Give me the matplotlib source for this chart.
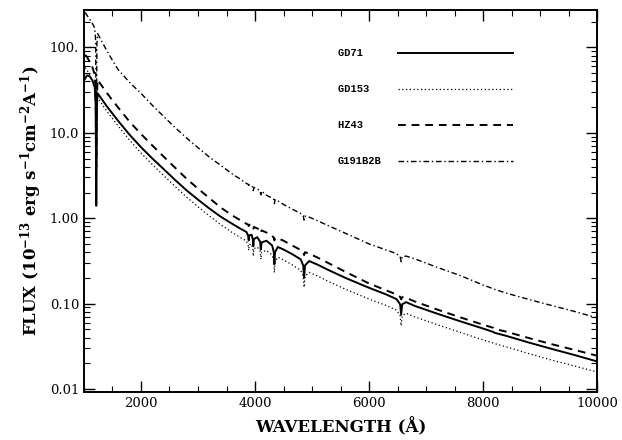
import numpy as np
import matplotlib
matplotlib.use('Agg')
import matplotlib.pyplot as plt
from matplotlib.ticker import FixedLocator, FixedFormatter, MultipleLocator, NullFormatter

# wavelength grid (Angstrom), shared by all four stars
wave = [1020, 1050, 1100, 1150, 1190, 1205, 1216, 1227, 1240, 1300, 1400, 1500, 1600,
        1800, 2000, 2200, 2400, 2600, 2800, 3000, 3200, 3400, 3600, 3750, 3850,
        3880, 3889, 3900, 3940, 3962, 3970, 3980, 4040, 4090, 4102, 4115, 4200,
        4300, 4330, 4340, 4350, 4400, 4500, 4650, 4800, 4845, 4861, 4877, 4950,
        5100, 5300, 5600, 6000, 6300, 6480, 6545, 6563, 6581, 6650, 6800, 7200,
        7600, 8000, 8180, 8200, 8400, 8800, 9200, 9600, 10000]

# fluxes in 1e-13 erg/s/cm2/A
gd71 = [43, 47, 46, 41, 34, 22, 1.4, 22, 29, 25.5, 20.5, 16.8, 13.8,
        9.5, 6.8, 5.0, 3.75, 2.8, 2.12, 1.65, 1.30, 1.04, 0.86, 0.75, 0.69,
        0.62, 0.55, 0.63, 0.64, 0.56, 0.47, 0.57, 0.60, 0.53, 0.43, 0.52, 0.545,
        0.48, 0.40, 0.29, 0.40, 0.46, 0.43, 0.38, 0.33, 0.28, 0.20, 0.28, 0.315,
        0.285, 0.245, 0.198, 0.153, 0.128, 0.113, 0.098, 0.074, 0.098, 0.104, 0.094, 0.076,
        0.062, 0.051, 0.0465, 0.0455, 0.042, 0.035, 0.0295, 0.025, 0.021]

gd153 = [58, 55, 48, 40, 32, 20, 3.0, 18, 26, 22.5, 18, 14.7, 12,
         8.2, 5.8, 4.25, 3.15, 2.35, 1.77, 1.36, 1.06, 0.84, 0.68, 0.59, 0.54,
         0.48, 0.42, 0.49, 0.50, 0.43, 0.36, 0.44, 0.46, 0.41, 0.33, 0.40, 0.42,
         0.37, 0.31, 0.23, 0.31, 0.35, 0.325, 0.285, 0.245, 0.21, 0.155, 0.21, 0.232,
         0.21, 0.18, 0.146, 0.113, 0.095, 0.084, 0.072, 0.055, 0.072, 0.077, 0.070, 0.0565,
         0.046, 0.0375, 0.0345, 0.034, 0.0312, 0.026, 0.0218, 0.0186, 0.0158]

hz43 = [82, 78, 68, 58, 48, 30, 4.0, 28, 42, 36.5, 29.5, 24, 19.8,
        13.5, 9.7, 7.1, 5.25, 3.9, 2.9, 2.22, 1.72, 1.33, 1.08, 0.94, 0.86,
        0.84, 0.81, 0.84, 0.82, 0.79, 0.74, 0.79, 0.76, 0.72, 0.67, 0.72, 0.68,
        0.62, 0.59, 0.55, 0.59, 0.585, 0.545, 0.48, 0.425, 0.40, 0.37, 0.40, 0.385,
        0.345, 0.295, 0.233, 0.172, 0.143, 0.128, 0.120, 0.112, 0.119, 0.117, 0.106, 0.085,
        0.069, 0.0565, 0.052, 0.0505, 0.047, 0.0395, 0.0335, 0.0287, 0.0245]

g191b2b = [258, 240, 215, 190, 168, 120, 2.5, 110, 145, 122, 92, 70.5, 55,
           39, 29, 21, 15.5, 11.5, 8.7, 6.7, 5.2, 4.15, 3.3, 2.85, 2.55,
           2.5, 2.42, 2.47, 2.38, 2.3, 2.1, 2.3, 2.2, 2.1, 1.88, 2.08, 1.86,
           1.72, 1.66, 1.48, 1.65, 1.6, 1.45, 1.28, 1.14, 1.07, 0.95, 1.06, 1.03,
           0.93, 0.81, 0.66, 0.50, 0.425, 0.385, 0.355, 0.31, 0.355, 0.36, 0.335, 0.265,
           0.213, 0.165, 0.149, 0.147, 0.133, 0.112, 0.095, 0.081, 0.068]

names = ['GD71', 'GD153', 'HZ43', 'G191B2B']
yticks = [0.01, 0.1, 1, 10, 100]
ytick_labels = ['0.01', '0.10', '1.00', '10.0', '100.']
xticks = [2000, 4000, 6000, 8000, 10000]

plt.rcParams['font.family'] = 'DejaVu Serif'
plt.rcParams['mathtext.fontset'] = 'dejavuserif'
plt.rcParams['mathtext.default'] = 'bf'

fig = plt.figure(figsize=(6.22, 4.4), dpi=100)
ax = fig.add_axes([0.135, 0.109, 0.825, 0.868])

ax.plot(wave, gd71, color='black', lw=1.4, ls='-', label=names[0])
ax.plot(wave, gd153, color='black', lw=0.9, ls=(0, (1, 2)), label=names[1])
ax.plot(wave, hz43, color='black', lw=1.4, ls=(0, (4, 3)), label=names[2])
ax.plot(wave, g191b2b, color='black', lw=1.0, ls=(0, (4, 2, 1, 2)), label=names[3])

ax.set_yscale('log')
ax.set_xlim(1000, 10000)
ax.set_ylim(0.0092, 274)

ax.xaxis.set_major_locator(FixedLocator(xticks))
ax.xaxis.set_minor_locator(MultipleLocator(500))
ax.yaxis.set_major_locator(FixedLocator(yticks))
ax.yaxis.set_major_formatter(FixedFormatter(ytick_labels))
ax.yaxis.set_minor_formatter(NullFormatter())

ax.tick_params(which='both', direction='in', top=True, right=True, labelsize=9.5)
ax.tick_params(which='major', length=8, width=1.0)
ax.tick_params(which='minor', length=4, width=0.8)
for s in ax.spines.values():
    s.set_linewidth(1.4)

ax.set_xlabel('WAVELENGTH (Å)', fontsize=12, fontweight='bold', labelpad=6)
ax.set_ylabel(r'FLUX (10$^{-13}$ erg s$^{-1}$cm$^{-2}$A$^{-1}$)', fontsize=12,
              fontweight='bold', labelpad=4)

# legend: label text left, line sample right
handles, labels = ax.get_legend_handles_labels()
labels = [l.ljust(7) for l in labels]
leg = ax.legend(handles, labels, loc='upper left', bbox_to_anchor=(0.495, 0.90),
                frameon=False, markerfirst=False, handlelength=11,
                handletextpad=1.6, labelspacing=2.5, borderpad=0, borderaxespad=0,
                prop={'family': 'Liberation Mono', 'weight': 'bold', 'size': 7.5})

fig.savefig('out.png', dpi=100)
